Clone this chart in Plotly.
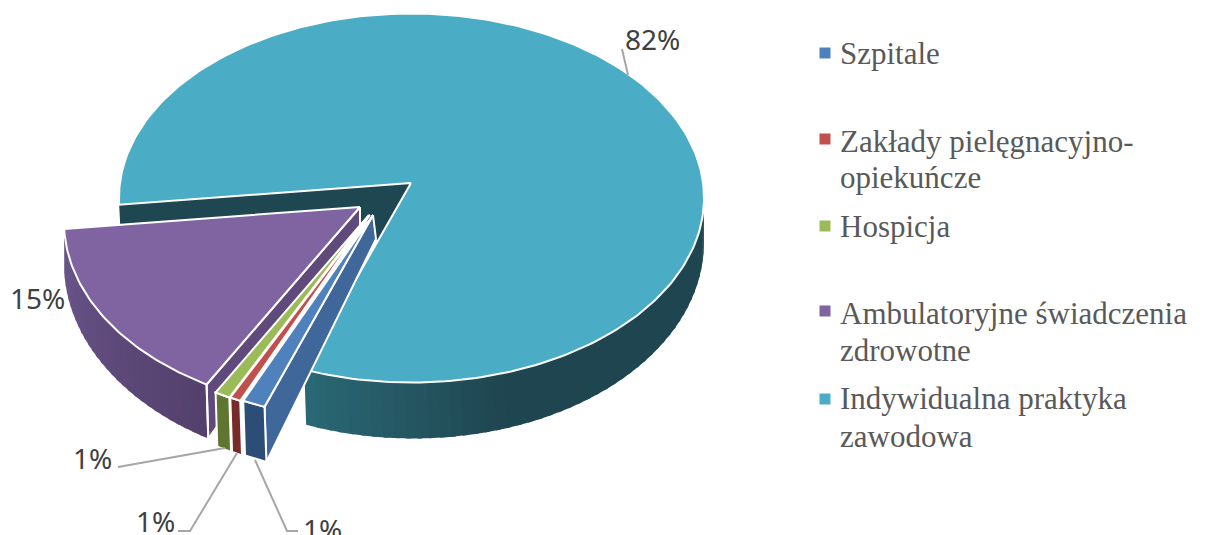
import math
import plotly.graph_objects as go

# ---- data ----
categories = ["Szpitale", "Zakłady pielęgnacyjno-opiekuńcze", "Hospicja",
              "Ambulatoryjne świadczenia zdrowotne", "Indywidualna praktyka zawodowa"]
shares = [1.25, 0.6, 0.85, 15.75, 81.55]
share_labels = ["1%", "1%", "1%", "15%", "82%"]
legend_lines = [["Szpitale"], ["Zakłady pielęgnacyjno-", "opiekuńcze"], ["Hospicja"],
                ["Ambulatoryjne świadczenia", "zdrowotne"], ["Indywidualna praktyka", "zawodowa"]]

# ---- style / layout ----
TOP = ["#4f81bd", "#c0504d", "#9bbb59", "#8064a2", "#4bacc6"]
FRONT = ["#2c4d75", "#772c2a", "#5f7530", None, None]
START = 201.5
CENTERS = [(373, 230), (370, 230), (369, 230), (360, 222), (411.5, 198)]
APEX = [(373, 215), (370, 215), (369, 215), (360, 207), (411, 183)]
RX = [296, 296, 296, 296, 292.5]
RY = [190, 190, 190, 190, 184.5]
SANS = "Noto Sans"
SERIF = "Liberation Serif"
LEADER = "#a6a6a6"

fig = go.Figure()


def poly(pts, fill, line=None, width=0):
    fig.add_trace(go.Scatter(
        x=[p[0] for p in pts], y=[p[1] for p in pts], mode="lines", fill="toself",
        fillcolor=fill, line=dict(color=line or fill, width=width if line else 0),
        hoverinfo="skip", showlegend=False))


def stroke(pts, color="white", width=2):
    fig.add_trace(go.Scatter(
        x=[p[0] for p in pts], y=[p[1] for p in pts], mode="lines",
        line=dict(color=color, width=width), hoverinfo="skip", showlegend=False))


def top_pt(i, a):
    r = math.radians(a)
    return (CENTERS[i][0] + RX[i] * math.sin(r), CENTERS[i][1] - RY[i] * math.cos(r))


def low_pt(i, a):
    r = math.radians(a)
    c = -math.cos(r)
    x, y = top_pt(i, a)
    return (x + 2 * max(c, 0), y + 43 + 13 * c)


def arc(fn, i, a0, a1, n=60):
    return [fn(i, a0 + (a1 - a0) * k / n) for k in range(n + 1)]


def mix(c0, c1, t):
    a = [int(c0[j:j + 2], 16) for j in (1, 3, 5)]
    b = [int(c1[j:j + 2], 16) for j in (1, 3, 5)]
    return "#%02x%02x%02x" % tuple(round(u + (v - u) * t) for u, v in zip(a, b))


def outer_wall(i, a0, a1, left, right, bands, span=None):
    """gradient wall, a0 = left end; a1 = right end"""
    for k in range(bands):
        s0 = a0 + (a1 - a0) * k / bands
        s1 = a0 + (a1 - a0) * min(k + 1.4, bands) / bands
        mid = (s0 + s1) / 2
        t = min(1, abs(mid - a0) / (span or abs(a1 - a0)))
        poly(arc(top_pt, i, s0, s1, 6) + arc(low_pt, i, s1, s0, 6), mix(left, right, t))


# angular limits from the shares
edges = [START]
for v in shares:
    edges.append(edges[-1] + v * 3.6)

# ----- main slice (back) -----
main = 4
a0, a1 = edges[4], edges[5]
lc = top_pt(main, a0)
dark = "#1f4752"
poly([APEX[main], lc, (lc[0] + 1, lc[1] + 20), (lc[0] + 1, lc[1] + 23),
      (APEX[3][0], APEX[3][1] + 19), (APEX[0][0], APEX[0][1] + 2),
      (APEX[0][0] + 3, APEX[0][1] + 25), (APEX[main][0], APEX[main][1] + 60)], dark)
outer_wall(main, a1, 450, "#2a6976", "#1f4650", 50, span=40)
poly([APEX[main]] + arc(top_pt, main, a0, a1, 240) + [APEX[main]], TOP[main], "white", 2)

# ----- purple slice -----
i = 3
a0, a1 = edges[3], edges[4]
outer_wall(i, a1, a0, "#6b568c", "#54406c", 30)
poly([APEX[i], (APEX[i][0], APEX[i][1] + 21), low_pt(i, a0), top_pt(i, a0), APEX[i]],
     "#5f4a7b", "white", 2)
stroke([top_pt(i, a0), low_pt(i, a0)])
poly([APEX[i]] + arc(top_pt, i, a0, a1) + [APEX[i]], TOP[i], "white", 2)

# ----- small slices -----
for i in (2, 1, 0):
    a0, a1 = edges[i], edges[i + 1]
    if i == 0:
        poly([APEX[i], (APEX[i][0] + 3, APEX[i][1] + 24), low_pt(i, a0), top_pt(i, a0), APEX[i]],
             "#40679a", "white", 2)
    poly(arc(top_pt, i, a0, a1, 6) + arc(low_pt, i, a1, a0, 6) + [top_pt(i, a0)],
         FRONT[i], "white", 2)
    poly([APEX[i]] + arc(top_pt, i, a0, a1, 6) + [APEX[i]], TOP[i], "white", 2)

# ----- leader lines -----
for pts in ([(622, 49), (628, 75)],
            [(118, 467), (225, 448)],
            [(178, 531), (190, 531), (237, 453)],
            [(298, 531), (287, 531), (255, 460)]):
    stroke(pts, LEADER, 2)

# ----- legend markers -----
marker_y = [53, 139, 226, 311, 399]
fig.add_trace(go.Scatter(x=[825] * 5, y=marker_y, mode="markers",
                         marker=dict(symbol="square", size=11, color=TOP, line=dict(width=0)),
                         hoverinfo="skip", showlegend=False))

anns = []
line_y = [[53], [141, 177], [226], [313, 350], [398, 436]]
for lines, ys in zip(legend_lines, line_y):
    for txt, y in zip(lines, ys):
        anns.append(dict(x=838, y=y, text=txt, xanchor="left", yanchor="middle", showarrow=False,
                         font=dict(family=SERIF, size=31, color="#595959")))
label_xy = [(322, 529), (155, 521), (92, 458), (37, 298), (652, 39)]
for txt, (x, y) in zip(share_labels, label_xy):
    anns.append(dict(x=x, y=y, text=txt, xanchor="center", yanchor="middle", showarrow=False,
                     height=24, font=dict(family=SANS, size=28, color="#404040")))

fig.update_layout(
    width=1215, height=535, margin=dict(l=0, r=0, t=0, b=0),
    paper_bgcolor="white", plot_bgcolor="white", showlegend=False,
    xaxis=dict(range=[0, 1215], visible=False, fixedrange=True),
    yaxis=dict(range=[535, 0], visible=False, fixedrange=True),
    annotations=anns,
)
fig.write_html("out.html", config={"displayModeBar": False},
               post_script="document.body.style.margin='0';document.body.style.overflow='hidden';")
